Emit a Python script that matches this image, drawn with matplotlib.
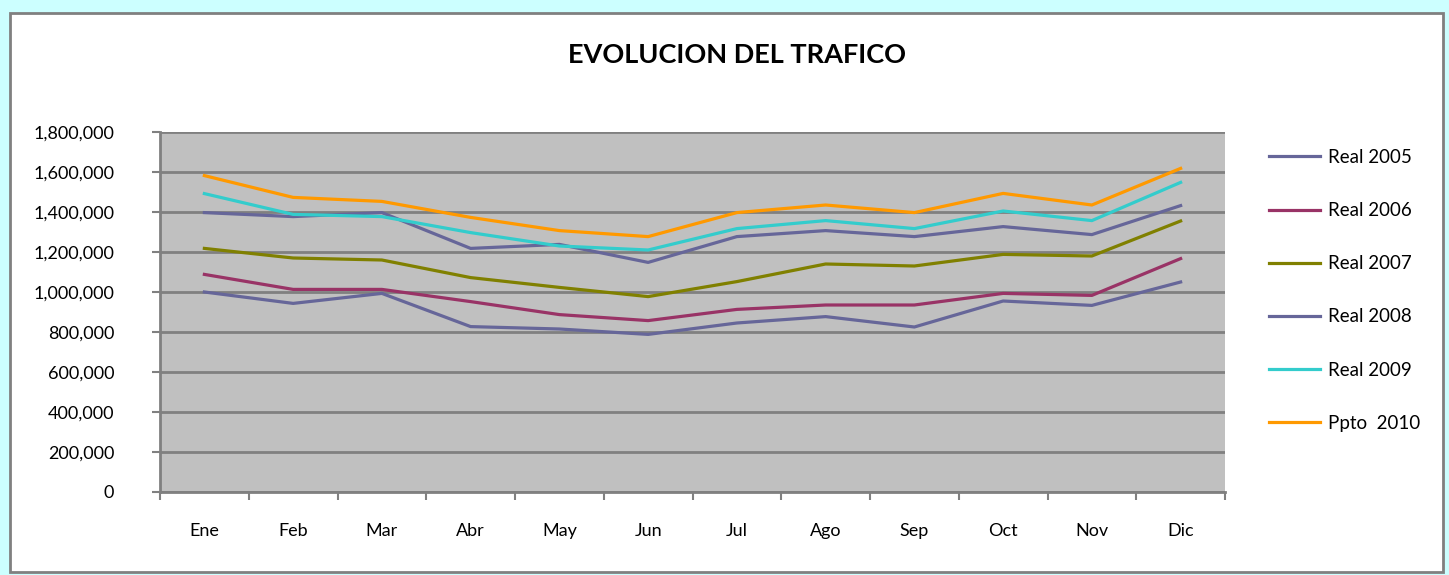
import matplotlib
matplotlib.use("Agg")
import matplotlib.pyplot as plt
import matplotlib.patches as mpatches
from matplotlib.ticker import FuncFormatter, FixedLocator

plt.rcParams['font.family'] = ['Lato', 'DejaVu Sans']

meses = ['Ene', 'Feb', 'Mar', 'Abr', 'May', 'Jun', 'Jul', 'Ago', 'Sep', 'Oct', 'Nov', 'Dic']

real_2005 = [1000000, 943000, 993000, 827000, 815000, 788000, 845000, 877000, 825000, 955000, 933000, 1050000]
real_2006 = [1088000, 1013000, 1013000, 952000, 887000, 857000, 913000, 935000, 935000, 993000, 983000, 1167000]
real_2007 = [1218000, 1170000, 1160000, 1072000, 1023000, 977000, 1052000, 1140000, 1130000, 1188000, 1180000, 1355000]
real_2008 = [1397000, 1377000, 1397000, 1218000, 1238000, 1148000, 1277000, 1307000, 1277000, 1327000, 1287000, 1432000]
real_2009 = [1492000, 1388000, 1377000, 1297000, 1230000, 1210000, 1317000, 1357000, 1317000, 1405000, 1357000, 1548000]
ppto_2010 = [1582000, 1473000, 1453000, 1373000, 1307000, 1277000, 1397000, 1435000, 1397000, 1493000, 1435000, 1618000]

series = [
    ('Real 2005', real_2005, '#666699'),
    ('Real 2006', real_2006, '#993366'),
    ('Real 2007', real_2007, '#808000'),
    ('Real 2008', real_2008, '#666699'),
    ('Real 2009', real_2009, '#33CCCC'),
    ('Ppto  2010', ppto_2010, '#FF9900'),
]

W, H = 1449, 575
fig = plt.figure(figsize=(W / 100, H / 100), dpi=100, facecolor='#CCFFFF')

# white chart area with gray border
frame = mpatches.Rectangle((10 / W, 3 / H), (W - 16) / W, (H - 16) / H,
                           transform=fig.transFigure, facecolor='white',
                           edgecolor='#808080', linewidth=2, zorder=-5)
fig.patches.append(frame)

ax = fig.add_axes([160 / W, (H - 492) / H, (1225 - 160) / W, (492 - 132) / H])
ax.set_zorder(2)
ax.set_facecolor('#C0C0C0')

x = list(range(len(meses)))
for name, vals, col in series:
    ax.plot(x, vals, color=col, linewidth=2.3, label=name)

ax.set_xlim(-0.5, len(meses) - 0.5)
ax.set_ylim(0, 1800000)
ax.set_yticks(range(0, 1800001, 200000))
ax.yaxis.set_major_formatter(FuncFormatter(lambda v, p: f'{int(v):,}'))
ax.yaxis.grid(True, color='#808080', linewidth=2)
ax.set_axisbelow(True)

ax.xaxis.set_major_locator(FixedLocator([i - 0.5 for i in range(len(meses) + 1)]))
ax.xaxis.set_major_formatter(FuncFormatter(lambda v, p: ''))
ax.xaxis.set_minor_locator(FixedLocator(x))
ax.set_xticklabels(meses, minor=True)
ax.tick_params(axis='x', which='minor', length=0, pad=22, labelsize=13)
ax.tick_params(axis='x', which='major', length=6, width=1.5, color='#808080', direction='out')
ax.tick_params(axis='y', length=6, width=1.5, color='#808080', direction='out', labelsize=13, pad=27)

for s in ['top', 'right']:
    ax.spines[s].set_visible(False)
for s in ['left', 'bottom']:
    ax.spines[s].set_color('#808080')
    ax.spines[s].set_linewidth(2)

fig.text(737 / W, 1 - 55 / H, 'EVOLUCION DEL TRAFICO', ha='center', va='center',
         fontsize=19.5, fontweight='bold')

fig.legend(loc='upper left', bbox_to_anchor=(1252 / W, 1 - 132 / H), frameon=False,
           fontsize=13.5, handlelength=2.7, handletextpad=0.45, labelspacing=1.93)

fig.savefig('out.png', dpi=100, facecolor=fig.get_facecolor())
